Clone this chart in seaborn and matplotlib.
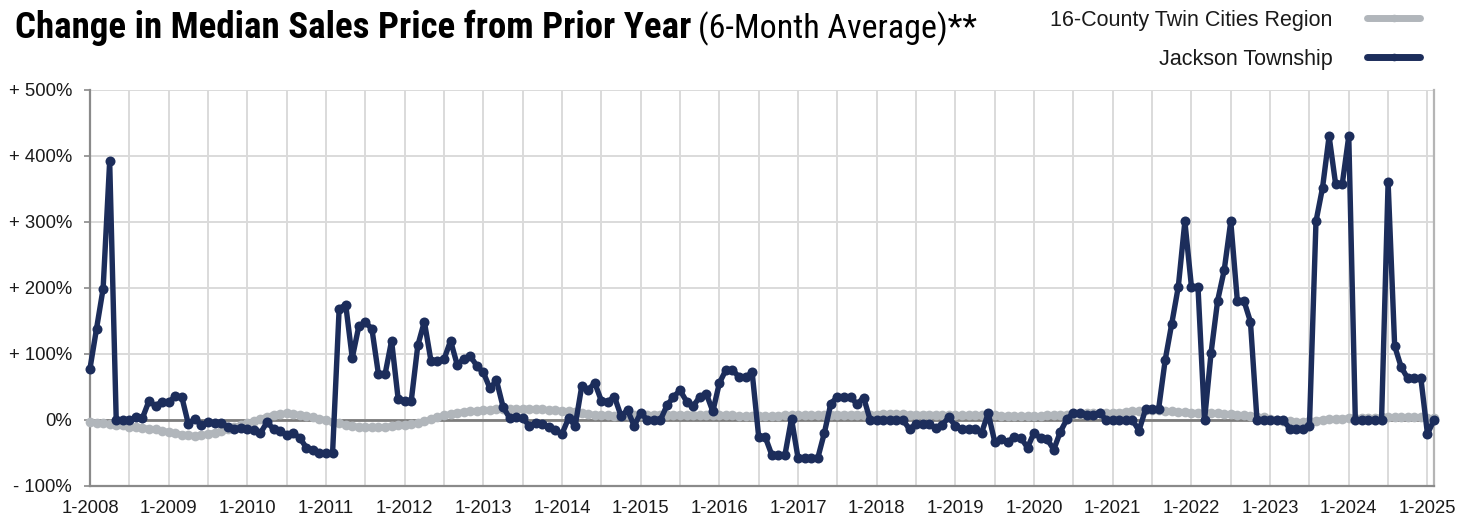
import numpy as np
import pandas as pd
import matplotlib
matplotlib.use("Agg")
import matplotlib.pyplot as plt
from matplotlib import font_manager as fm
from matplotlib.lines import Line2D
import seaborn as sns

# ---------------- data ----------------
years = list(range(2008, 2026))
tick_labels = [f"1-{y}" for y in years]
series_names = ["16-County Twin Cities Region", "Jackson Township"]

jackson = [
    # 2008
    78, 138, 199, 392, 0, 0, 0, 4, 3, 29, 21, 28,
    # 2009
    27, 36, 35, -6, 2, -8, -3, -5, -4, -10, -13, -12,
    # 2010
    -14, -15, -20, -3, -14, -16, -23, -20, -27, -42, -45, -50,
    # 2011
    -50, -50, 168, 175, 94, 142, 148, 138, 69, 69, 120, 32,
    # 2012
    29, 29, 113, 149, 90, 90, 92, 120, 84, 92, 97, 82,
    # 2013
    72, 48, 60, 20, 3, 4, 3, -9, -5, -6, -11, -15,
    # 2014
    -21, 3, -9, 51, 46, 56, 29, 28, 35, 6, 15, -9,
    # 2015
    11, 0, 0, 0, 22, 35, 45, 28, 21, 35, 40, 13,
    # 2016
    56, 76, 76, 65, 65, 72, -26, -26, -53, -53, -53, 2,
    # 2017
    -58, -58, -58, -58, -20, 25, 35, 35, 35, 24, 34, 0,
    # 2018
    0, 0, 0, 0, 0, -14, -6, -6, -6, -12, -7, 4,
    # 2019
    -9, -14, -14, -14, -19, 10, -33, -29, -33, -26, -27, -42,
    # 2020
    -19, -28, -29, -45, -18, 1, 11, 11, 8, 8, 11, 0,
    # 2021
    0, 0, 0, 0, -16, 16, 16, 17, 91, 146, 202, 301,
    # 2022
    202, 202, 0, 102, 181, 227, 301, 181, 181, 149, 0, 0,
    # 2023
    0, 0, 0, -13, -13, -13, -9, 301, 352, 430, 357, 357,
    # 2024
    430, 0, 0, 0, 0, 0, 360, 112, 80, 63, 63, 63,
    # 2025
    -21, 0,
]

twin_cities = [
    # 2008
    -3, -4, -5, -6, -7, -8, -10, -11, -12, -13, -14, -16,
    # 2009
    -18, -20, -22, -23, -24, -23, -21, -19, -17, -14, -11, -8,
    # 2010
    -5, -2, 2, 5, 8, 9, 10, 9, 8, 6, 4, 2,
    # 2011
    0, -3, -5, -7, -9, -10, -11, -11, -11, -10, -9, -8,
    # 2012
    -7, -6, -5, -2, 1, 4, 7, 9, 11, 12, 13, 14,
    # 2013
    15, 15, 16, 16, 16, 16, 17, 17, 16, 16, 15, 15,
    # 2014
    14, 13, 12, 10, 9, 8, 7, 7, 6, 6, 7, 7,
    # 2015
    7, 7, 8, 8, 8, 8, 8, 7, 7, 7, 7, 7,
    # 2016
    7, 7, 7, 6, 6, 6, 6, 6, 6, 6, 7, 7,
    # 2017
    7, 7, 7, 7, 7, 8, 8, 8, 8, 8, 8, 8,
    # 2018
    8, 9, 9, 9, 9, 8, 8, 8, 8, 8, 7, 7,
    # 2019
    7, 7, 7, 7, 7, 7, 7, 6, 6, 6, 6, 6,
    # 2020
    6, 6, 7, 7, 8, 8, 9, 9, 10, 10, 10, 10,
    # 2021
    11, 11, 12, 13, 14, 15, 15, 15, 14, 13, 12, 12,
    # 2022
    11, 11, 10, 10, 10, 9, 9, 8, 7, 6, 5, 4,
    # 2023
    2, 0, -1, -2, -3, -3, -2, -1, 0, 1, 2, 2,
    # 2024
    3, 3, 3, 3, 3, 4, 4, 4, 4, 4, 4, 4,
    # 2025
    3, 3,
]

y_ticks = [-100, 0, 100, 200, 300, 400, 500]
y_tick_labels = ["- 100%", "0%", "+ 100%", "+ 200%", "+ 300%", "+ 400%", "+ 500%"]

# ---------------- style ----------------
NAVY = "#1c2d5b"
GREY = "#b1b6bb"
GRID = "#dadada"
SPINE = "#8a8a8a"

sns.set_theme(style="white")
plt.rcParams["font.family"] = ["Liberation Sans", "DejaVu Sans"]


def pick_title_font():
    avail = {}
    for f in fm.fontManager.ttflist:
        avail.setdefault(f.name, set()).add(str(f.stretch))
    for name in ["Liberation Sans Narrow", "Roboto Condensed", "Open Sans Condensed",
                 "DejaVu Sans Condensed"]:
        if name in avail:
            return name, "normal"
    if "DejaVu Sans" in avail and "condensed" in avail["DejaVu Sans"]:
        return "DejaVu Sans", "condensed"
    return "Roboto", "normal"


title_family, title_stretch = pick_title_font()

W, H = 1472, 519
fig = plt.figure(figsize=(W / 100, H / 100), dpi=100)
ax_left, ax_right, ax_top, ax_bottom = 90, 1434, 90, 486
ax = fig.add_axes([ax_left / W, 1 - ax_bottom / H, (ax_right - ax_left) / W, (ax_bottom - ax_top) / H])

months = np.arange(len(jackson))
df = pd.DataFrame({
    "month": np.concatenate([months, months]),
    "value": np.concatenate([twin_cities, jackson]),
    "series": [series_names[0]] * len(twin_cities) + [series_names[1]] * len(jackson),
})

ax.axhline(0, color="#7d7d7d", lw=2.0, zorder=1.5)

sub_tc = df[df["series"] == series_names[0]]
sub_j = df[df["series"] == series_names[1]]
sns.lineplot(data=sub_tc, x="month", y="value", color=GREY, linewidth=4.2, marker="o",
             markersize=7.0, markeredgewidth=0, markeredgecolor=GREY, ax=ax,
             zorder=3, legend=False, clip_on=False)
sns.lineplot(data=sub_j, x="month", y="value", color=NAVY, linewidth=3.9, marker="o",
             markersize=7.2, markeredgewidth=0, markeredgecolor=NAVY, ax=ax,
             zorder=4, legend=False, clip_on=False)

ax.set_xlim(0, len(jackson) - 1)
ax.set_ylim(-100, 500)
ax.set_xticks(np.arange(0, len(jackson), 12))
ax.set_xticklabels(tick_labels)
ax.set_xticks(np.arange(6, len(jackson), 12), minor=True)
ax.set_yticks(y_ticks)
ax.set_yticklabels(y_tick_labels)
ax.set_xlabel("")
ax.set_ylabel("")

ax.grid(True, which="both", axis="x", color=GRID, lw=1.4, zorder=0)
ax.grid(True, which="major", axis="y", color=GRID, lw=1.4, zorder=0)
ax.set_axisbelow(True)

ax.tick_params(axis="x", which="both", length=0, pad=10, labelsize=13.3, labelcolor="#1a1a1a")
ax.tick_params(axis="y", which="major", length=4, width=1.2, color=SPINE, pad=9,
               labelsize=13.3, labelcolor="#1a1a1a", left=True)

for side in ["left", "bottom"]:
    ax.spines[side].set_color(SPINE)
    ax.spines[side].set_linewidth(1.6)
ax.spines["top"].set_visible(False)
ax.spines["right"].set_color("#b5b5b5")
ax.spines["right"].set_linewidth(1.6)

# ---------------- legend ----------------
handles = [
    Line2D([], [], color=GREY, lw=5.0, marker="o", markersize=5.5, markeredgewidth=0,
           solid_capstyle="round"),
    Line2D([], [], color=NAVY, lw=5.0, marker="o", markersize=5.5, markeredgewidth=0,
           solid_capstyle="round"),
]
fig.legend(handles, series_names, loc="upper right",
           bbox_to_anchor=(1420 / W, 1 - 10 / H), bbox_transform=fig.transFigure,
           frameon=False, markerfirst=False, numpoints=1, handlelength=2.45,
           handletextpad=1.6, labelspacing=0.82, fontsize=15.5, borderaxespad=0,
           borderpad=0, labelcolor="#1a1a1a")

# ---------------- title ----------------
renderer = fig.canvas.get_renderer()
base_y = 1 - 38 / H
t1 = fig.text(15 / W, base_y, "Change in Median Sales Price from Prior Year",
              fontsize=24, fontweight="bold", family=title_family,
              fontstretch=title_stretch, ha="left", va="baseline", color="#000000")
w1 = t1.get_window_extent(renderer).width
t1.set_fontsize(min(27, 24 * 677 / w1))
bb1 = t1.get_window_extent(renderer)

t2 = fig.text((bb1.x1 + 7) / W, base_y, "(6-Month Average)**",
              fontsize=24, fontweight="normal", family=title_family,
              fontstretch=title_stretch, ha="left", va="baseline", color="#000000")
w2 = t2.get_window_extent(renderer).width
t2.set_fontsize(min(27, 24 * 280 / w2))

fig.savefig("out.png", dpi=100)
